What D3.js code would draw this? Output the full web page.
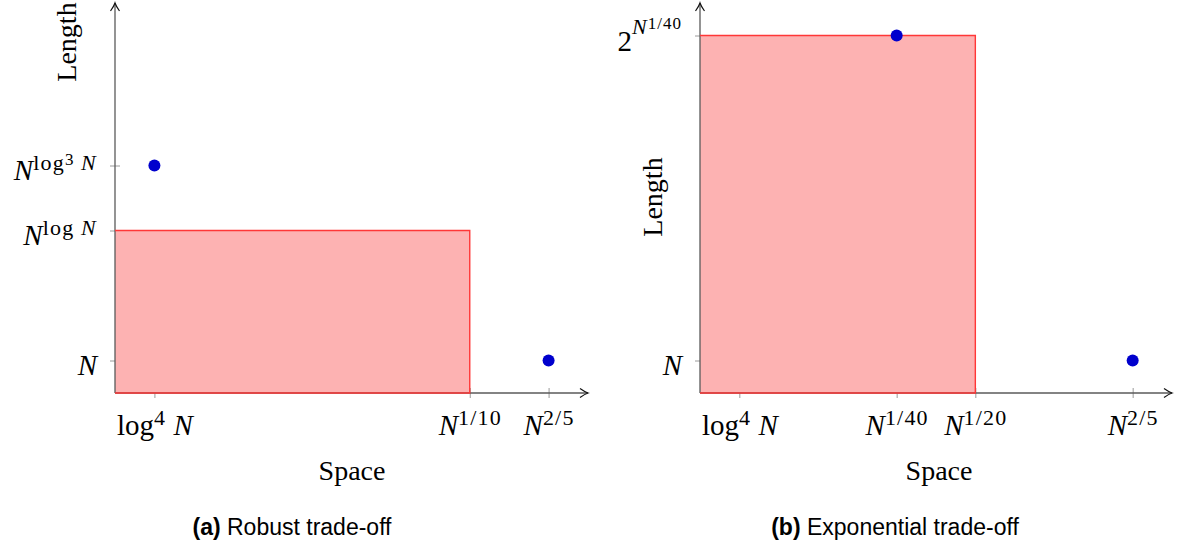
<!DOCTYPE html>
<html>
<head>
<meta charset="utf-8">
<script src="https://cdn.jsdelivr.net/npm/d3@7"></script>
<style>
  body { margin: 0; background: #fff; }
  text { white-space: pre; }
</style>
</head>
<body>
<svg width="1179" height="548"></svg>
<script>
// tick label parts: [text, level (0 base, 1 sup, 2 sup-sup), italic]
const xTicksA = [1, 9, 11];
const xLabelsA = [
    [['log', 0], ['4', 1], [' N', 0, true]],
    [['N', 0, true], ['1/10', 1]],
    [['N', 0, true], ['2/5', 1]]
];
const yTicksA = [1, 5, 7];
const yLabelsA = [
    [['N', 0, true]],
    [['N', 0, true], ['log', 1], [' N', 1, true]],
    [['N', 0, true], ['log', 1], ['3', 2], [' N', 1, true]]
];
const pointsA = [[1, 7], [11, 1]];
const regionA = [9, 5];

const xTicksB = [1, 5, 7, 11];
const xLabelsB = [
    [['log', 0], ['4', 1], [' N', 0, true]],
    [['N', 0, true], ['1/40', 1]],
    [['N', 0, true], ['1/20', 1]],
    [['N', 0, true], ['2/5', 1]]
];
const yTicksB = [1, 11];
const yLabelsB = [
    [['N', 0, true]],
    [['2', 0], ['N', 1, true], ['1/40', 2]]
];
const pointsB = [[5, 11], [11, 1]];
const regionB = [7, 11];

const captions = [['(a)', 'Robust trade-off'], ['(b)', 'Exponential trade-off']];

const svg = d3.select('svg');
const serif = '"Liberation Serif", "DejaVu Serif", serif';
const sans = '"Liberation Sans", Arial, sans-serif';

// write a small TeX-like label into a text element
function mathLabel(text, parts) {
    const tall = parts.some(p => p[1] === 2) && parts[0][0] === '2';
    const raise = tall ? [0, 17, 22] : [0, 10, 15];
    const sizes = [29, 22, 17];
    const spacing = [0, 1.2, 1];
    let prev = 0;
    parts.forEach(([t, lvl, it]) => {
        const r = raise[lvl];
        text.append('tspan')
            .attr('font-size', sizes[lvl])
            .attr('letter-spacing', spacing[lvl])
            .attr('font-style', it ? 'italic' : 'normal')
            .attr('dy', prev - r)
            .text(t);
        prev = r;
    });
}

function arrow(g, x, y, angle) {
    g.append('path')
        .attr('d', 'M-8,-4.5 Q-3,-1 0,0 Q-3,1 -8,4.5')
        .attr('transform', `translate(${x},${y}) rotate(${angle})`)
        .attr('fill', 'none')
        .attr('stroke', '#111')
        .attr('stroke-width', 1.2);
}

function drawPanel(p) {
    const g = svg.append('g')
        .attr('transform', `translate(${p.left},${p.top})`);

    const xScale = d3.scaleLinear().domain([0, 12]).range([0, p.width]);
    const yScale = d3.scaleLinear().domain([0, 12]).range([p.height, 0]);

    const xAxisG = g.append('g')
        .attr('transform', `translate(0,${p.height - 5})`)
        .call(d3.axisBottom(xScale).tickValues(p.xTicks).tickSize(10).tickFormat(''));
    xAxisG.select('.domain').remove();
    xAxisG.selectAll('.tick line').attr('stroke', '#9a9a9a');
    xAxisG.selectAll('.tick text')
        .attr('y', 47).attr('dy', null)
        .attr('font-family', serif).attr('text-anchor', 'middle')
        .each(function(d, i) { mathLabel(d3.select(this), p.xLabels[i]); });

    const yAxisG = g.append('g')
        .attr('transform', 'translate(5,0)')
        .call(d3.axisLeft(yScale).tickValues(p.yTicks).tickSize(10).tickFormat(''));
    yAxisG.select('.domain').remove();
    yAxisG.selectAll('.tick line').attr('stroke', '#9a9a9a');
    yAxisG.selectAll('.tick text')
        .attr('x', -23).attr('y', (d, i) => i === p.yTicks.length - 1 && p.tallTop ? 15 : 14)
        .attr('dy', null)
        .attr('font-family', serif).attr('text-anchor', 'end')
        .each(function(d, i) { mathLabel(d3.select(this), p.yLabels[i]); });

    // shaded region
    const rx = xScale(p.region[0]);
    const ry = yScale(p.region[1]);
    g.append('rect')
        .attr('x', 0).attr('y', ry)
        .attr('width', rx).attr('height', p.height - ry)
        .attr('fill', 'rgb(253,178,178)');

    // axis lines
    g.append('line')
        .attr('x1', 0).attr('x2', p.width)
        .attr('y1', p.height).attr('y2', p.height)
        .attr('stroke', '#5a5a5a').attr('stroke-width', 1.3);
    g.append('line')
        .attr('x1', 0).attr('x2', 0)
        .attr('y1', p.height).attr('y2', 0)
        .attr('stroke', '#5a5a5a').attr('stroke-width', 1.3);
    arrow(g, p.width, p.height, 0);
    arrow(g, 0, 0, -90);

    g.append('path')
        .attr('d', `M0,${ry}H${rx}V${p.height}H0`)
        .attr('fill', 'none')
        .attr('stroke', 'rgb(255,55,55)')
        .attr('stroke-width', 1.4);

    g.selectAll('circle').data(p.points)
        .enter().append('circle')
        .attr('cx', d => xScale(d[0]))
        .attr('cy', d => yScale(d[1]))
        .attr('r', 6)
        .attr('fill', '#0000cd');

    g.append('text')
        .attr('x', p.spaceX).attr('y', p.height + 87)
        .attr('text-anchor', 'middle')
        .attr('font-family', serif).attr('font-size', 28)
        .text('Space');

    g.append('text')
        .attr('transform', `translate(${p.lengthX},${p.lengthY}) rotate(-90)`)
        .attr('text-anchor', 'middle')
        .attr('font-family', serif).attr('font-size', 28)
        .text('Length');

    const cap = svg.append('text')
        .attr('x', p.captionX).attr('y', 535)
        .attr('text-anchor', 'middle')
        .attr('font-family', sans).attr('font-size', 23);
    cap.append('tspan').attr('font-weight', 'bold').text(p.caption[0]);
    cap.append('tspan').text(' ' + p.caption[1]);
}

drawPanel({
    left: 115, top: 3, width: 473, height: 390,
    xTicks: xTicksA, xLabels: xLabelsA, yTicks: yTicksA, yLabels: yLabelsA,
    points: pointsA, region: regionA,
    spaceX: 237, lengthX: -39, lengthY: 39, captionX: 292, caption: captions[0]
});

drawPanel({
    left: 700, top: 3, width: 472, height: 390,
    xTicks: xTicksB, xLabels: xLabelsB, yTicks: yTicksB, yLabels: yLabelsB,
    points: pointsB, region: regionB, tallTop: true,
    spaceX: 239, lengthX: -38, lengthY: 194, captionX: 895, caption: captions[1]
});
</script>
</body>
</html>
